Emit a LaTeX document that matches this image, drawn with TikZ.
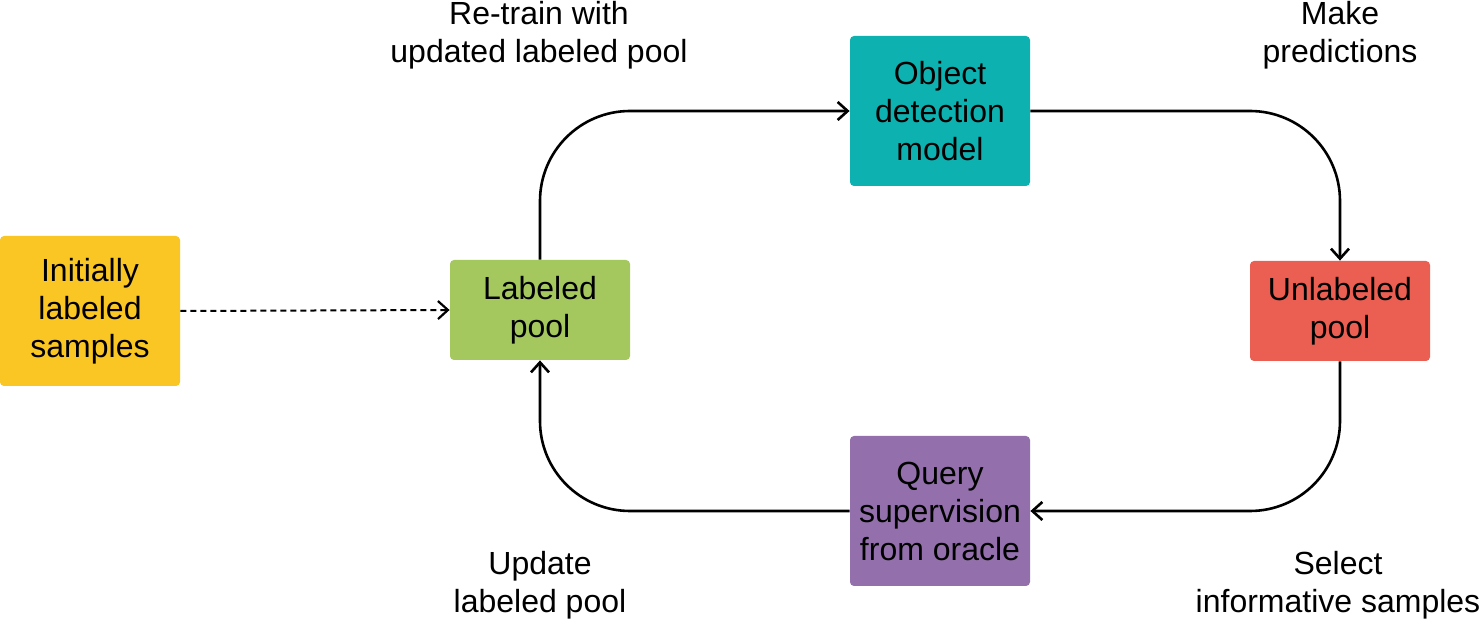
\documentclass[tikz,border=0pt]{standalone}
\usepackage{fontspec}
\setmainfont{Liberation Sans}
\usetikzlibrary{arrows.meta}
\definecolor{cyellow}{RGB}{250,198,35}
\definecolor{cgreen}{RGB}{164,199,94}
\definecolor{cteal}{RGB}{13,178,176}
\definecolor{cred}{RGB}{235,94,82}
\definecolor{cpurple}{RGB}{147,112,172}
\begin{document}
\begin{tikzpicture}[x=0.5pt,y=-0.5pt,
  box/.style={rounded corners=2pt, minimum width=90pt, align=center, inner sep=0pt, font=\fontsize{16}{19}\selectfont},
  tall/.style={box, minimum height=75pt},
  short/.style={box, minimum height=50pt},
  lbl/.style={align=center, font=\fontsize{16}{19}\selectfont, inner sep=0pt},
  conn/.style={line width=1.3pt, rounded corners=45pt, -{Straight Barb[length=5pt,width=9pt,line width=1.3pt]}},
  dconn/.style={line width=1pt, dash pattern=on 3pt off 2pt, -{Straight Barb[length=5pt,width=9pt,line width=1.1pt]}}
]
\useasboundingbox (0,0) rectangle (1480,620);
\node[tall, fill=cyellow] (init) at (90,311) {Initially\\labeled\\samples};
\node[short, fill=cgreen] (lab) at (540,310) {Labeled\\pool};
\node[tall, fill=cteal] (obj) at (940,111) {Object\\detection\\model};
\node[short, fill=cred] (unl) at (1340,311) {Unlabeled\\pool};
\node[tall, fill=cpurple] (qry) at (940,511) {Query\\supervision\\from oracle};

\node[lbl] (l1) at (539,35) {Re-train with\\updated labeled pool};
\node[lbl] (l2) at (1340,35) {Make\\predictions};
\node[lbl] (l3) at (540,585) {Update\\labeled pool};
\node[lbl] (l4) at (1338,585) {Select\\informative samples};

\draw[dconn] (init.east) -- (lab.west);
\draw[conn] (lab.north) |- (obj.west);
\draw[conn] (obj.east) -| (unl.north);
\draw[conn] (unl.south) |- (qry.east);
\draw[conn] (qry.west) -| (lab.south);
\end{tikzpicture}
\end{document}
